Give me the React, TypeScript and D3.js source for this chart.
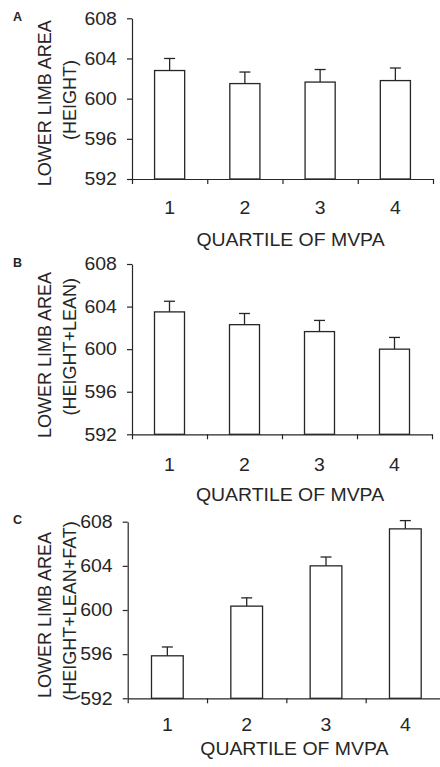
import React, { useEffect, useRef } from 'react'
import * as d3 from 'd3'

// quartiles of moderate-to-vigorous physical activity
const quartiles = ['1', '2', '3', '4']
const yTicks = [592, 596, 600, 604, 608]

// adjusted lower limb area, mean and SE per quartile
const heightMeans = [602.8, 601.5, 601.65, 601.8]
const heightSE = [1.2, 1.15, 1.25, 1.25]
const leanMeans = [603.5, 602.3, 601.65, 600.0]
const leanSE = [1.0, 1.05, 1.05, 1.1]
const fatMeans = [595.85, 600.35, 604.0, 607.35]
const fatSE = [0.8, 0.75, 0.8, 0.75]

const xTitle = 'QUARTILE OF MVPA'

const INK = '#262626'
const FONT = 'Liberation Sans, Arial, sans-serif'
const SX = 1.08

const panels = [
  { letter: 'A', means: heightMeans, errors: heightSE, lines: ['LOWER LIMB AREA', '(HEIGHT)'],
    top: 18.3, bottom: 179, left: 132, right: 433, tickBase: 34.5, titleBase: 66.7, letterY: 20.7, lineY: [103.3, 100] },
  { letter: 'B', means: leanMeans, errors: leanSE, lines: ['LOWER LIMB AREA', '(HEIGHT+LEAN)'],
    top: 264, bottom: 434.3, left: 132, right: 432, tickBase: 36.4, titleBase: 66.5, letterY: 267.3, lineY: [355, 346.7] },
  { letter: 'C', means: fatMeans, errors: fatSE, lines: ['LOWER LIMB AREA', '(HEIGHT+LEAN+FAT)'],
    top: 521.7, bottom: 698.3, left: 127.7, right: 445, tickBase: 32.4, titleBase: 56.7, letterY: 524, lineY: [615, 611] },
]

function Panel({ p }: { p: any }) {
  const yRef = useRef<SVGGElement>(null)
  const xRef = useRef<SVGGElement>(null)

  const y = d3.scaleLinear().domain([592, 608]).range([p.bottom, p.top])
  const x = d3.scaleBand().domain(quartiles).range([p.left, p.right]).paddingInner(0.6).paddingOuter(0.3)
  const edges = d3.scaleLinear().domain([0, 4]).range([p.left, p.right])

  useEffect(() => {
    const yg = d3.select(yRef.current!)
    yg.call(d3.axisLeft(y).tickValues(yTicks).tickSize(5).tickSizeOuter(0).tickPadding(9).tickFormat(d3.format('d')))
    yg.attr('font-size', 18).attr('font-family', FONT).attr('color', INK)
    yg.selectAll('line, path').attr('stroke-width', 1.2)
    yg.selectAll('text').attr('transform', `scale(${SX},1)`)

    const xg = d3.select(xRef.current!)
    xg.call(d3.axisBottom(edges).tickValues([0, 1, 2, 3, 4]).tickSize(5).tickSizeOuter(0).tickFormat(() => ''))
    xg.attr('color', INK)
    xg.selectAll('line, path').attr('stroke-width', 1.2)
  })

  const cx = (q: string) => x(q)! + x.bandwidth() / 2

  return (
    <g>
      <text x={13} y={p.letterY} fontSize={12.5} fontWeight="bold" fontFamily={FONT} fill={INK}>{p.letter}</text>
      {p.lines.map((t: string, i: number) => (
        <text key={i} transform={`translate(${i === 0 ? 50.5 : 75.5},${p.lineY[i]}) scale(1.05,1) rotate(-90)`}
          textAnchor="middle" fontSize={18} fontFamily={FONT} fill={INK}>{t}</text>
      ))}
      {quartiles.map((q, i) => (
        <g key={q}>
          <line x1={cx(q)} x2={cx(q)} y1={y(p.means[i])} y2={y(p.means[i] + p.errors[i])} stroke={INK} strokeWidth={1.3} />
          <line x1={cx(q) - 5.5} x2={cx(q) + 5.5} y1={y(p.means[i] + p.errors[i])} y2={y(p.means[i] + p.errors[i])} stroke={INK} strokeWidth={1.3} />
          <rect x={x(q)} y={y(p.means[i])} width={x.bandwidth()} height={p.bottom - y(p.means[i])}
            fill="#fff" stroke={INK} strokeWidth={1.3} />
        </g>
      ))}
      <g ref={yRef} transform={`translate(${p.left},0)`} />
      <g ref={xRef} transform={`translate(0,${p.bottom})`} />
      {quartiles.map(q => (
        <text key={q} transform={`translate(${cx(q)},${p.bottom + p.tickBase}) scale(${SX},1)`}
          textAnchor="middle" fontSize={18} fontFamily={FONT} fill={INK}>{q}</text>
      ))}
      <text transform={`translate(${(p.left + Math.min(p.right, 450)) / 2 + 8},${p.bottom + p.titleBase}) scale(${SX},1)`}
        textAnchor="middle" fontSize={18} fontFamily={FONT} fill={INK}>{xTitle}</text>
    </g>
  )
}

export default function App() {
  return (
    <svg width={440} height={767} style={{ position: 'absolute', left: 0, top: 0, background: '#fff' }}>
      {panels.map(p => <Panel key={p.letter} p={p} />)}
    </svg>
  )
}
